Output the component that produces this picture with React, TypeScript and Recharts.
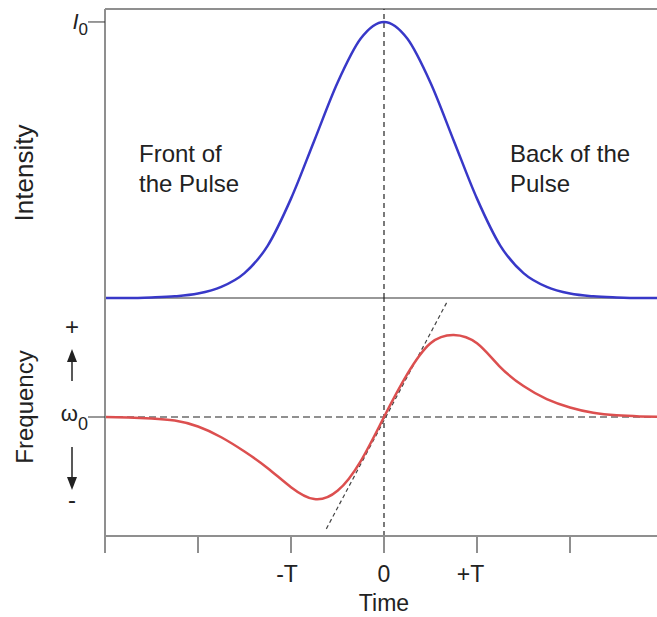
import { ComposedChart, Line, XAxis, YAxis, ReferenceLine } from "recharts";

// pulse sampled in units of T
const time = [
  -3, -2.75, -2.5, -2.25, -2, -1.75, -1.5, -1.25, -1, -0.75, -0.5, -0.25, 0,
  0.25, 0.5, 0.75, 1, 1.25, 1.5, 1.75, 2, 2.25, 2.5, 2.75, 3,
];
const intensity = [
  0, 0, 0.002, 0.006, 0.016, 0.04, 0.09, 0.19, 0.36, 0.57, 0.78, 0.94, 1,
  0.94, 0.78, 0.57, 0.36, 0.19, 0.09, 0.04, 0.016, 0.006, 0.002, 0, 0,
];
const frequency = [
  0, -0.004, -0.012, -0.03, -0.08, -0.17, -0.29, -0.43, -0.59, -0.69, -0.62,
  -0.37, 0, 0.36, 0.62, 0.69, 0.62, 0.42, 0.26, 0.15, 0.08, 0.035, 0.014,
  0.005, 0,
];
const timeTicks = [-3, -2, -1, 0, 1, 2, 3];
const timeTickLabels = ["", "", "-T", "0", "+T", "", ""];
const chirpSlope = [
  { x: -0.62, y: -0.94 },
  { x: 0.68, y: 0.97 },
];

const data = time.map((t, i) => ({
  t,
  intensity: intensity[i],
  frequency: frequency[i],
}));

const FONT = '"Liberation Sans", Arial, sans-serif';
const INK = "#222";
const FRAME = "#8f8f8f";
const BLUE = "#3838c8";
const RED = "#dc4f4f";
const W = 663;
const I_TOP = 1.047;

function IntensityTick(props: any) {
  const { x, y, payload } = props;
  if (payload.value === 1) {
    return (
      <text x={x + 2} y={y} dy={7} textAnchor="end" fill={INK} fontFamily={FONT} fontSize={22}>
        <tspan fontStyle="italic">I</tspan>
        <tspan fontSize={17} dy={6}>0</tspan>
      </text>
    );
  }
  return (
    <text x={x - 6} y={y} dy={8} textAnchor="end" fill={INK} fontFamily={FONT} fontSize={23}>
      0
    </text>
  );
}

function OmegaTick(props: any) {
  const { x, y } = props;
  return (
    <text x={x + 2} y={y} dy={4} textAnchor="end" fill={INK} fontFamily={FONT} fontSize={22}>
      ω<tspan fontSize={18} dy={9}>0</tspan>
    </text>
  );
}

function TimeTick(props: any) {
  const { x, y, payload } = props;
  const label = timeTickLabels[timeTicks.indexOf(payload.value)] ?? "";
  if (!label) return <g />;
  // keep the "T" centred on the tick, sign hangs to the left
  const shift = label.startsWith("+") ? -6.5 : label.startsWith("-") ? -4 : 0;
  return (
    <text x={x + shift} y={y} dy={27} textAnchor="middle" fill={INK} fontFamily={FONT} fontSize={23}>
      {label}
    </text>
  );
}

function IntensityTitle() {
  return (
    <text
      x={24}
      y={173}
      transform="rotate(-90 24 173)"
      textAnchor="middle"
      dominantBaseline="central"
      fill={INK}
      fontFamily={FONT}
      fontSize={26}
    >
      Intensity
    </text>
  );
}

function FrequencyTitle() {
  const ax = 72;
  return (
    <g fill={INK} fontFamily={FONT}>
      <text
        x={24}
        y={117}
        transform="rotate(-90 24 117)"
        textAnchor="middle"
        dominantBaseline="central"
        fontSize={24}
      >
        Frequency
      </text>
      <text x={ax} y={37} dy={8} textAnchor="middle" fontSize={24}>
        +
      </text>
      <line x1={ax} y1={68} x2={ax} y2={91} stroke={INK} strokeWidth={1.5} />
      <path d={`M${ax - 5},72 L${ax},59 L${ax + 5},72 Z`} />
      <line x1={ax} y1={157} x2={ax} y2={190} stroke={INK} strokeWidth={1.5} />
      <path d={`M${ax - 5},187 L${ax},200 L${ax + 5},187 Z`} />
      <text x={ax} y={212} dy={6} textAnchor="middle" fontSize={24}>
        -
      </text>
    </g>
  );
}

const note: React.CSSProperties = {
  position: "absolute",
  fontFamily: FONT,
  fontSize: 24,
  lineHeight: "30px",
  color: INK,
  whiteSpace: "nowrap",
};

export default function App() {
  return (
    <div
      style={{
        position: "absolute",
        left: 0,
        top: 0,
        width: 657,
        height: 617,
        overflow: "hidden",
        background: "#fff",
      }}
    >
      {/* intensity panel */}
      <div style={{ position: "absolute", left: 0, top: 0 }}>
        <ComposedChart width={W} height={300} data={data} margin={{ top: 9, right: 0, bottom: 2, left: 0 }}>
          <XAxis dataKey="t" type="number" domain={[-3, 3]} hide />
          <YAxis
            type="number"
            domain={[0, I_TOP]}
            ticks={[0, 1]}
            width={105}
            tickSize={17}
            tick={<IntensityTick />}
            tickLine={{ stroke: "#333", strokeWidth: 1 }}
            axisLine={{ stroke: FRAME, strokeWidth: 2 }}
            label={<IntensityTitle />}
          />
          {/* frame top and zero baseline */}
          <ReferenceLine y={I_TOP} stroke={FRAME} strokeWidth={2} ifOverflow="visible" />
          <ReferenceLine y={0} stroke="#333" strokeWidth={1.2} ifOverflow="visible" />
          <ReferenceLine x={0} stroke="#222" strokeWidth={1.2} strokeDasharray="5 4" />
          <Line dataKey="intensity" type="monotone" stroke={BLUE} strokeWidth={2.5} dot={false} isAnimationActive={false} />
        </ComposedChart>
      </div>

      {/* frequency panel */}
      <div style={{ position: "absolute", left: 0, top: 290 }}>
        <ComposedChart width={W} height={327} data={data} margin={{ top: 8, right: 0, bottom: 0, left: 0 }}>
          <XAxis
            dataKey="t"
            type="number"
            domain={[-3, 3]}
            ticks={timeTicks}
            height={81}
            tickSize={17}
            tick={<TimeTick />}
            tickLine={{ stroke: FRAME, strokeWidth: 2 }}
            axisLine={{ stroke: FRAME, strokeWidth: 2 }}
            label={{ value: "Time", position: "insideBottom", offset: 6, fill: INK, fontSize: 23, fontFamily: FONT }}
          />
          <YAxis
            type="number"
            domain={[-1, 1]}
            ticks={[0]}
            width={105}
            tickSize={17}
            tick={<OmegaTick />}
            tickLine={{ stroke: "#333", strokeWidth: 1 }}
            axisLine={{ stroke: FRAME, strokeWidth: 2 }}
            label={<FrequencyTitle />}
          />
          <ReferenceLine y={0} stroke="#222" strokeWidth={1.2} strokeDasharray="7 4" />
          <ReferenceLine x={0} stroke="#222" strokeWidth={1.2} strokeDasharray="5 4" />
          <ReferenceLine segment={chirpSlope} stroke="#444" strokeWidth={1.2} strokeDasharray="4 3" />
          <Line dataKey="frequency" type="natural" stroke={RED} strokeWidth={2.5} dot={false} isAnimationActive={false} />
        </ComposedChart>
      </div>

      <div style={{ ...note, left: 139, top: 139 }}>
        Front of
        <br />
        the Pulse
      </div>
      <div style={{ ...note, left: 510, top: 139 }}>
        Back of the
        <br />
        Pulse
      </div>
    </div>
  );
}
